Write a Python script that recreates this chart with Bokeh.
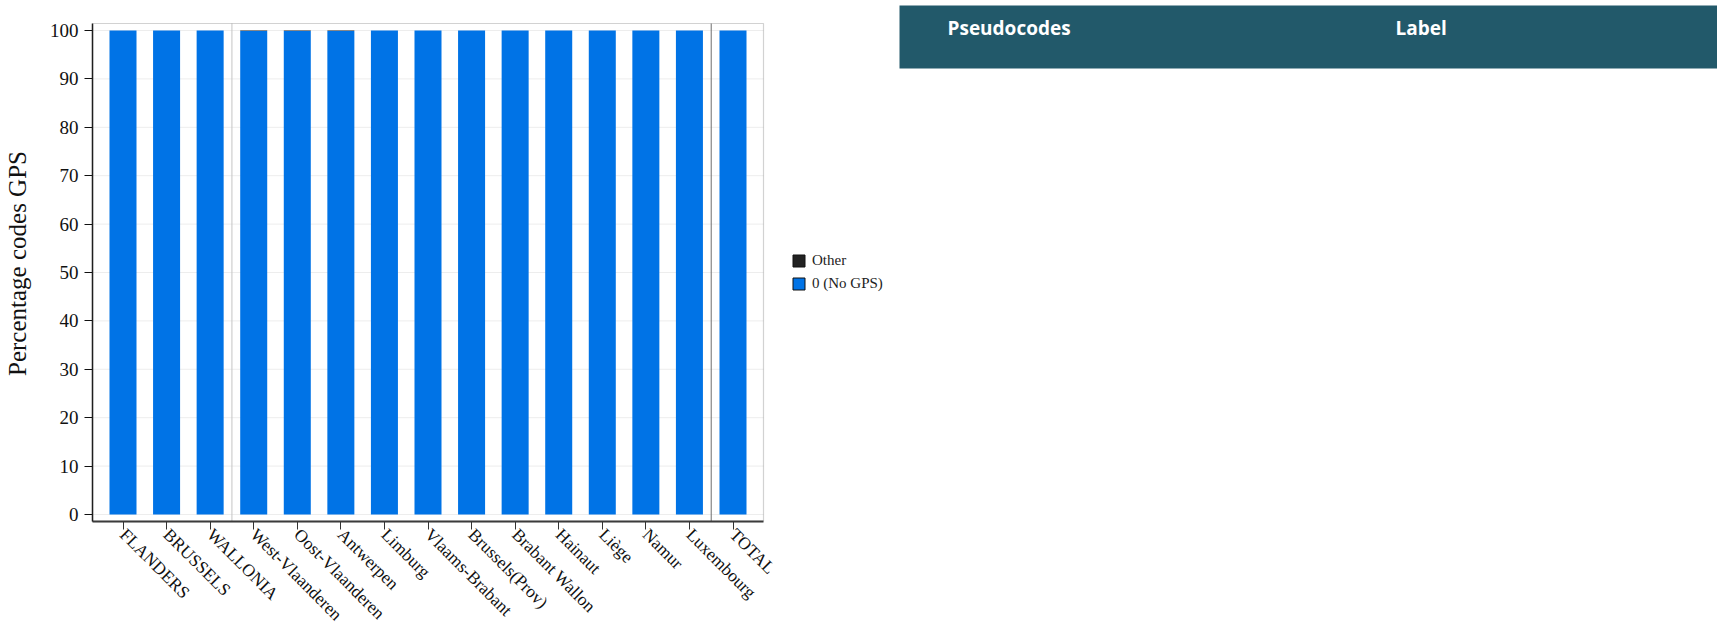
import math
from bokeh.plotting import figure
from bokeh.models import (Range1d, FixedTicker, Legend, LegendItem,
                          ColumnDataSource, BoxAnnotation, Label)
from bokeh.embed import file_html
from bokeh.resources import INLINE

# ---- data ----
categories = ["FLANDERS", "BRUSSELS", "WALLONIA", "West-Vlaanderen", "Oost-Vlaanderen",
              "Antwerpen", "Limburg", "Vlaams-Brabant", "Brussels(Prov)", "Brabant Wallon",
              "Hainaut", "Liège", "Namur", "Luxembourg", "TOTAL"]
no_gps = [100.0, 100.0, 100.0, 99.9, 99.9, 99.9, 100.0, 100.0, 100.0, 100.0,
          100.0, 100.0, 100.0, 100.0, 100.0]
other = [0.0, 0.0, 0.0, 0.1, 0.1, 0.1, 0.0, 0.0, 0.0, 0.0,
         0.0, 0.0, 0.0, 0.0, 0.0]
y_ticks = [0, 10, 20, 30, 40, 50, 60, 70, 80, 90, 100]
series_names = ["0 (No GPS)", "Other"]
series_colors = ["#0073E6", "#222222"]
separators = [2.5, 13.5]
separator_colors = ["#C4C4C4", "#6E6E6E"]
header_titles = ["Pseudocodes", "Label"]

# ---- layout (pixels) ----
SERIF = "Liberation Serif"
W, H = 1717, 636
FL, FR_CHART, FT, FT_CHART, FB = 92, 763, 5, 23, 521   # frame / chart box edges
X0, X1 = -0.7, len(categories) - 0.3
Y0, Y1 = -1.45, 101.45
pxu_x = (FR_CHART - FL) / (X1 - X0)
pxu_y = (FB - FT_CHART) / (Y1 - Y0)
x_end = X1 + (W - FR_CHART) / pxu_x
y_end = Y1 + (FT_CHART - FT) / pxu_y


def dx(px):
    return X0 + (px - FL) / pxu_x


def dy(py):
    return Y0 + (FB - py) / pxu_y


idx = list(range(len(categories)))
src = ColumnDataSource(dict(x=idx, nogps=no_gps, other=other))

p = figure(width=W, height=H, output_backend="svg", toolbar_location=None, title=None,
           x_range=Range1d(X0, x_end), y_range=Range1d(Y0, y_end),
           min_border_left=FL, min_border_right=0, min_border_top=FT,
           min_border_bottom=H - FB)
p.background_fill_color = "white"
p.border_fill_color = "white"
p.outline_line_color = None
p.grid.visible = False

# grid lines (only inside the chart box)
p.segment(x0=X0, x1=X1, y0=y_ticks, y1=y_ticks, line_color="#EDEDED", line_width=1)

# bars
p.vbar_stack(["nogps", "other"], x="x", width=0.62, source=src,
             color=series_colors, line_color=None)

# group separators
p.segment(x0=separators, x1=separators, y0=Y0, y1=Y1, line_color=separator_colors,
          line_width=1)

# chart box outline
p.add_layout(BoxAnnotation(left=X0, right=X1, bottom=Y0, top=Y1, fill_alpha=0,
                           line_color="#6A6A6A", line_width=1.2))

# axes
p.xaxis.bounds = (X0, X1)
p.xaxis.ticker = FixedTicker(ticks=idx)
p.xaxis.major_label_overrides = {i: c for i, c in zip(idx, categories)}
p.xaxis.major_label_orientation = -math.pi / 4
p.xaxis.major_label_text_font = SERIF
p.xaxis.major_label_text_font_size = "17.5px"
p.xaxis.major_label_text_color = "#111111"
p.xaxis.major_label_standoff = 2
p.xaxis.axis_line_color = "#333333"
p.xaxis.axis_line_width = 2
p.xaxis.major_tick_line_color = "#333333"
p.xaxis.major_tick_out = 8
p.xaxis.major_tick_in = 0
p.xaxis.minor_tick_line_color = None

p.yaxis.bounds = (Y0, Y1)
p.yaxis.ticker = FixedTicker(ticks=y_ticks)
p.yaxis.major_label_text_font = SERIF
p.yaxis.major_label_text_font_size = "19px"
p.yaxis.major_label_text_color = "#111111"
p.yaxis.major_label_standoff = 6
p.yaxis.axis_line_color = "#111111"
p.yaxis.axis_line_width = 1.5
p.yaxis.major_tick_line_color = "#111111"
p.yaxis.major_tick_out = 8
p.yaxis.major_tick_in = 0
p.yaxis.minor_tick_line_color = None
p.yaxis.axis_label = "Percentage codes GPS"
p.yaxis.axis_label_text_font = SERIF
p.yaxis.axis_label_text_font_size = "25px"
p.yaxis.axis_label_text_font_style = "normal"
p.yaxis.axis_label_text_color = "#111111"
p.yaxis.axis_label_standoff = 16

# legend (placeholder renderers carry the swatch styles only)
nan_src = ColumnDataSource(dict(x=[float("nan")], top=[float("nan")]))
r_other = p.vbar(x="x", top="top", width=1, source=nan_src,
                 fill_color=series_colors[1], line_color="#111111")
r_nogps = p.vbar(x="x", top="top", width=1, source=nan_src,
                 fill_color=series_colors[0], line_color="#111111")
legend = Legend(items=[LegendItem(label=series_names[1], renderers=[r_other]),
                       LegendItem(label=series_names[0], renderers=[r_nogps])],
                location=(791 - FL, FB - 293), glyph_width=15, glyph_height=15,
                label_height=20, spacing=3, padding=0, margin=0, label_standoff=6,
                label_text_font=SERIF, label_text_font_size="15px",
                label_text_color="#222222", border_line_alpha=0,
                background_fill_alpha=0)
p.add_layout(legend, "center")

# table header
p.add_layout(BoxAnnotation(left=dx(899), right=dx(W + 2), top=dy(FT - 2), bottom=dy(68),
                           fill_color="#22596A", fill_alpha=1, line_color=None))
for t, xpos in zip(header_titles, [947, 1395]):
    p.add_layout(Label(x=dx(xpos), y=dy(27), text=t, text_font="Open Sans",
                       text_font_style="bold", text_font_size="19px",
                       text_color="white", text_baseline="alphabetic"))

open("out.html", "w").write(file_html(p, INLINE))
